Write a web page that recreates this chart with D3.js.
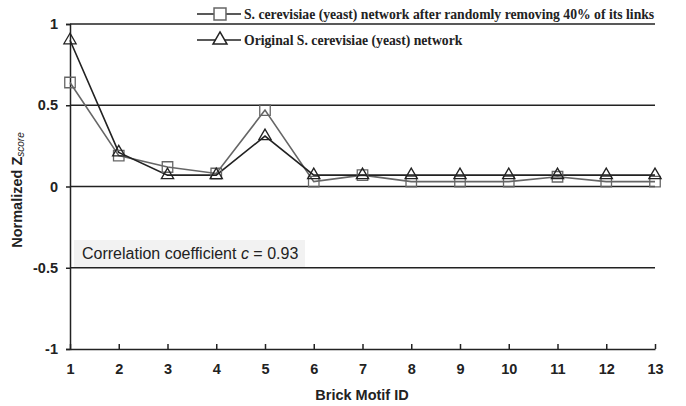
<!DOCTYPE html>
<html>
<head>
<meta charset="utf-8">
<script src="https://cdn.jsdelivr.net/npm/d3@7"></script>
<style>
body { margin: 0; background: #fff; }
svg { display: block; }
.tick-label { font-family: Arial, "Liberation Sans", sans-serif; font-weight: bold; font-size: 14.5px; fill: #222; }
.legend-text { font-family: "Times New Roman", "Liberation Serif", serif; font-weight: bold; font-size: 13.7px; fill: #222; }
</style>
</head>
<body>
<script>
var motifIds = [1, 2, 3, 4, 5, 6, 7, 8, 9, 10, 11, 12, 13];
var removedValues = [0.64, 0.19, 0.12, 0.08, 0.47, 0.03, 0.07, 0.03, 0.03, 0.03, 0.06, 0.03, 0.03];
var originalValues = [0.90, 0.21, 0.07, 0.07, 0.31, 0.07, 0.07, 0.07, 0.07, 0.07, 0.07, 0.07, 0.07];
var yTicks = [-1, -0.5, 0, 0.5, 1];
var gridValues = [-0.5, 0, 0.5, 1];
var legendLabels = [
	'S. cerevisiae (yeast) network after randomly removing 40% of its links',
	'Original S. cerevisiae (yeast) network'
];

var width = 686, height = 406;
var xScale = d3.scaleLinear().domain([1, 13]).range([70, 655]);
var yScale = d3.scaleLinear().domain([-1, 1]).range([349, 24]);

var svg = d3.select('body').append('svg')
	.attr('width', width)
	.attr('height', height);

// grid lines
svg.selectAll('line.grid')
	.data(gridValues)
	.enter()
	.append('line')
	.attr('class', 'grid')
	.attr('x1', xScale(1))
	.attr('x2', xScale(13))
	.attr('y1', function(d) { return yScale(d); })
	.attr('y2', function(d) { return yScale(d); })
	.attr('stroke', '#222')
	.attr('stroke-width', 1.5);

// y axis
var yAxis = svg.append('g')
	.attr('transform', 'translate(' + xScale(1) + ',0)')
	.call(d3.axisLeft(yScale).tickValues(yTicks).tickSize(4).tickPadding(8)
		.tickFormat(function(d) { return d; }));
yAxis.select('.domain').attr('stroke', '#222').attr('stroke-width', 1.5);
yAxis.selectAll('.tick line').attr('stroke', '#222').attr('stroke-width', 1.5);
yAxis.selectAll('.tick text').attr('class', 'tick-label').attr('fill', null);

// x axis
var xAxis = svg.append('g')
	.attr('transform', 'translate(0,' + yScale(-1) + ')')
	.call(d3.axisBottom(xScale).tickValues(motifIds).tickSize(-5).tickSizeOuter(0).tickPadding(15)
		.tickFormat(d3.format('d')));
xAxis.select('.domain').attr('stroke', '#222').attr('stroke-width', 1.5);
xAxis.selectAll('.tick line').attr('stroke', '#222').attr('stroke-width', 1.5);
xAxis.selectAll('.tick text').attr('class', 'tick-label').attr('fill', null);

// axis titles
svg.append('text')
	.attr('class', 'tick-label')
	.attr('x', 362)
	.attr('y', 400)
	.attr('text-anchor', 'middle')
	.text('Brick Motif ID');

var yTitle = svg.append('text')
	.attr('class', 'tick-label')
	.attr('transform', 'translate(22,190) rotate(-90)')
	.attr('text-anchor', 'middle');
yTitle.append('tspan').text('Normalized Z');
yTitle.append('tspan')
	.attr('font-size', '10px')
	.attr('font-style', 'italic')
	.attr('font-weight', 'normal')
	.attr('dy', 2)
	.text('score');

// correlation box
svg.append('rect')
	.attr('x', 74)
	.attr('y', 240)
	.attr('width', 231)
	.attr('height', 27)
	.attr('fill', '#f2f2f2');
var corr = svg.append('text')
	.attr('x', 82)
	.attr('y', 259)
	.attr('font-family', 'Arial, "Liberation Sans", sans-serif')
	.attr('font-size', '16px')
	.attr('fill', '#222');
corr.append('tspan').text('Correlation coefficient ');
corr.append('tspan').attr('font-style', 'italic').text('c');
corr.append('tspan').text('  = 0.93');

// series
var series = [
	{ values: removedValues, color: '#666', symbol: d3.symbolSquare, size: 110 },
	{ values: originalValues, color: '#222', symbol: d3.symbolTriangle, size: 65 }
];

var line = d3.line()
	.x(function(d, i) { return xScale(motifIds[i]); })
	.y(function(d) { return yScale(d); });

series.forEach(function(s) {
	svg.append('path')
		.datum(s.values)
		.attr('d', line)
		.attr('fill', 'none')
		.attr('stroke', s.color)
		.attr('stroke-width', 1.6);
});

series.forEach(function(s) {
	svg.selectAll(null)
		.data(s.values)
		.enter()
		.append('path')
		.attr('d', d3.symbol().type(s.symbol).size(s.size))
		.attr('transform', function(d, i) {
			return 'translate(' + xScale(motifIds[i]) + ',' + yScale(d) + ')';
		})
		.attr('fill', 'none')
		.attr('stroke', s.color)
		.attr('stroke-width', 1.3);
});

// legend
var legend = svg.selectAll('g.legend')
	.data(series)
	.enter()
	.append('g')
	.attr('class', 'legend')
	.attr('transform', function(d, i) { return 'translate(197,' + (14 + i * 26) + ')'; });
legend.append('line')
	.attr('x1', 0)
	.attr('x2', 44)
	.attr('stroke', '#222')
	.attr('stroke-width', 1.5);
legend.append('path')
	.attr('d', function(d) { return d3.symbol().type(d.symbol).size(d.size * 1.3)(); })
	.attr('transform', 'translate(23,0)')
	.attr('fill', '#fff')
	.attr('stroke', function(d) { return d.color; })
	.attr('stroke-width', 1.5);
legend.append('text')
	.attr('class', 'legend-text')
	.attr('x', 47)
	.attr('y', 5)
	.text(function(d, i) { return legendLabels[i]; });
</script>
</body>
</html>
